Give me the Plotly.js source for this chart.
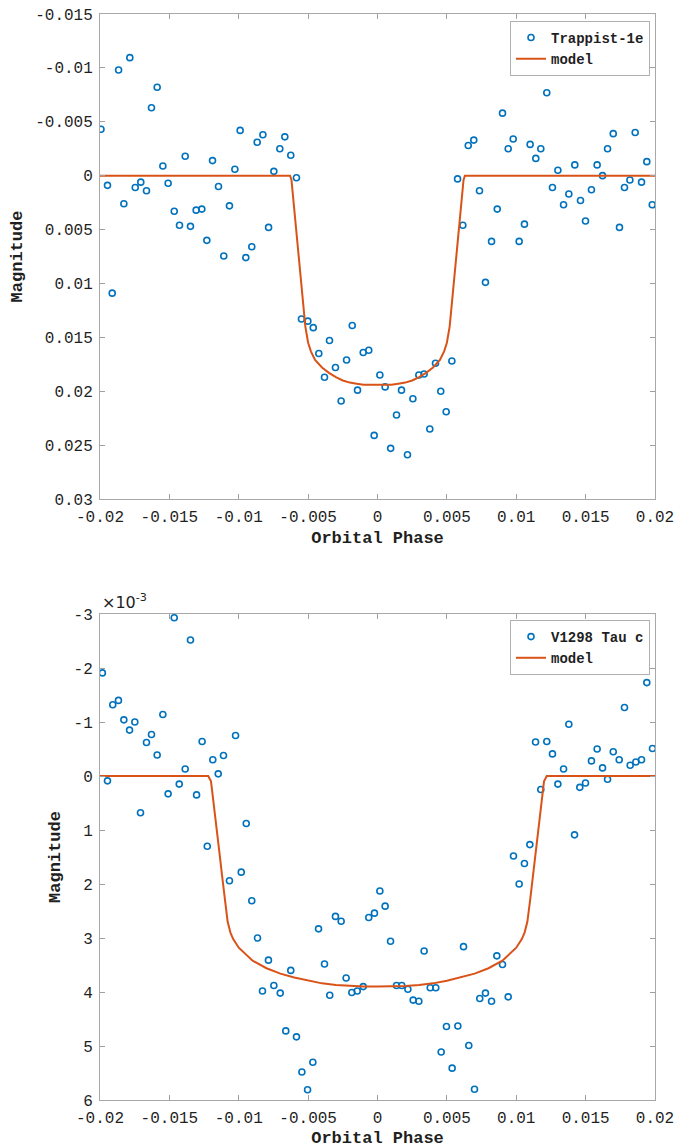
<!DOCTYPE html>
<html>
<head>
<meta charset="utf-8">
<script src="https://cdn.plot.ly/plotly-3.0.1.min.js"></script>
<style>
html,body{margin:0;padding:0;background:#fff;}
#chart{width:678px;height:1148px;}
</style>
</head>
<body>
<div id="chart"></div>
<script>
// ---- Top panel: Trappist-1e ----
var phase1 = [-0.01993,-0.01946,-0.01912,-0.01866,-0.01828,-0.01785,-0.01746,-0.01706,-0.01665,-0.01629,
-0.01588,-0.01547,-0.01509,-0.01465,-0.01427,-0.01386,-0.01348,-0.01307,-0.01266,-0.0123,
-0.01189,-0.01146,-0.01108,-0.01067,-0.01028,-0.0099,-0.00949,-0.00906,-0.00867,-0.00826,
-0.00785,-0.00747,-0.00704,-0.00668,-0.00625,-0.00584,-0.00548,-0.00502,-0.00463,-0.00423,
-0.00382,-0.00346,-0.00303,-0.00262,-0.00223,-0.00182,-0.00144,-0.00103,-0.00063,-0.00024,
0.00017,0.00055,0.00095,0.00137,0.00173,0.00216,0.00255,0.00298,0.00336,0.00377,
0.00418,0.00456,0.00495,0.00536,0.00577,0.00615,0.00654,0.00694,0.00735,0.00778,
0.00822,0.00863,0.00901,0.00942,0.00978,0.01021,0.01059,0.011,0.01141,0.01177,
0.0122,0.01261,0.013,0.01341,0.01379,0.01422,0.01463,0.01499,0.01542,0.01583,
0.01622,0.01658,0.01699,0.01744,0.0178,0.01819,0.01857,0.01903,0.01941,0.0198];
var mag1 = [-0.0043,0.0009,0.0109,-0.0098,0.0026,-0.01095,0.0011,0.0006,0.0014,-0.0063,
-0.0082,-0.0009,0.0007,0.0033,0.0046,-0.0018,0.0047,0.0032,0.0031,0.006,
-0.0014,0.001,0.00745,0.0028,-0.0006,-0.0042,0.0076,0.0066,-0.0031,-0.0038,
0.0048,-0.0004,-0.0025,-0.0036,-0.0019,0.0002,0.0133,0.0135,0.0141,0.0165,
0.0187,0.0153,0.0178,0.0209,0.0171,0.0139,0.0199,0.0164,0.0162,0.0241,
0.0185,0.0196,0.0253,0.0222,0.0199,0.0259,0.0207,0.0185,0.0184,0.0235,
0.0174,0.02,0.0219,0.0172,0.0003,0.0046,-0.0028,-0.0033,0.0014,0.0099,
0.0061,0.0031,-0.0058,-0.0025,-0.0034,0.0061,0.0045,-0.0029,-0.0016,-0.0025,
-0.0077,0.0011,-0.0005,0.0027,0.0017,-0.001,0.0023,0.0042,0.0013,-0.001,
0.0,-0.0025,-0.0039,0.0048,0.0011,0.0004,-0.004,0.0006,-0.0013,0.0027];
var modelPhase1 = [-0.02,-0.0063,-0.0062,-0.006,-0.0058,-0.0056,-0.0054,-0.0052,-0.005,-0.0048,
-0.0045,-0.004,-0.0035,-0.003,-0.0025,-0.002,-0.0015,-0.001,-0.0005,0,
0.0005,0.001,0.0015,0.002,0.0025,0.003,0.0035,0.004,0.0045,0.0048,
0.005,0.0052,0.0054,0.0056,0.0058,0.006,0.0062,0.0063,0.02];
var modelMag1 = [0,0,0.0004,0.003,0.0058,0.0086,0.0113,0.014,0.0155,0.0163,
0.0171,0.0178,0.0183,0.0187,0.019,0.0192,0.0193,0.0194,0.0194,0.0194,
0.0194,0.0194,0.0193,0.0192,0.019,0.0187,0.0183,0.0178,0.0171,0.0163,
0.0155,0.014,0.0113,0.0086,0.0058,0.003,0.0004,0,0];

// ---- Bottom panel: V1298 Tau c (values in units of 1e-3) ----
var phase2 = [-0.01983,-0.01946,-0.01908,-0.01867,-0.01828,-0.01787,-0.01749,-0.01708,-0.01665,-0.01629,
-0.01588,-0.01547,-0.01509,-0.01465,-0.01429,-0.01386,-0.01348,-0.01304,-0.01264,-0.01227,
-0.01187,-0.01148,-0.0111,-0.01067,-0.01023,-0.00982,-0.00946,-0.00906,-0.00865,-0.00829,
-0.00786,-0.00747,-0.00701,-0.00661,-0.00625,-0.00584,-0.00545,-0.00504,-0.00466,-0.00425,
-0.00382,-0.00344,-0.00303,-0.00262,-0.00226,-0.00185,-0.00146,-0.00103,-0.00063,-0.00022,
0.00017,0.00055,0.00094,0.00137,0.00175,0.00219,0.00257,0.00298,0.00336,0.0038,
0.0042,0.00459,0.00497,0.00538,0.00579,0.0062,0.00658,0.00699,0.00737,0.00778,
0.00822,0.0086,0.00901,0.00942,0.0098,0.01021,0.01059,0.01098,0.01139,0.01177,
0.0122,0.01261,0.013,0.01341,0.01379,0.0142,0.01458,0.01499,0.01542,0.01583,
0.01622,0.01658,0.01699,0.01742,0.0178,0.01821,0.01862,0.01903,0.01941,0.01982];
var mag2 = [-1.91,0.09,-1.32,-1.40,-1.04,-0.85,-1.0,0.68,-0.62,-0.77,
-0.39,-1.14,0.33,-2.93,0.15,-0.13,-2.52,0.35,-0.64,1.30,
-0.30,-0.04,-0.38,1.94,-0.75,1.78,0.88,2.31,3.0,3.98,
3.41,3.88,4.02,4.72,3.6,4.83,5.48,5.81,5.30,2.83,
3.48,4.06,2.60,2.69,3.74,4.01,3.98,3.90,2.62,2.54,
2.13,2.41,3.06,3.88,3.88,3.95,4.15,4.17,3.24,3.92,
3.92,5.11,4.64,5.41,4.63,3.16,4.99,5.80,4.12,4.02,
4.17,3.33,3.49,4.09,1.48,2.0,1.62,1.27,-0.63,0.25,
-0.64,-0.41,0.15,-0.13,-0.96,1.09,0.21,0.13,-0.28,-0.5,
-0.15,0.06,-0.45,-0.3,-1.27,-0.2,-0.26,-0.3,-1.73,-0.51];
var modelPhase2 = [-0.02,-0.0122,-0.012,-0.0118,-0.0116,-0.0114,-0.0112,-0.011,-0.0108,-0.0106,
-0.0104,-0.01,-0.009,-0.008,-0.007,-0.006,-0.005,-0.004,-0.003,-0.002,-0.001,0,
0.001,0.002,0.003,0.004,0.005,0.006,0.007,0.008,0.009,0.01,
0.0104,0.0106,0.0108,0.011,0.0112,0.0114,0.0116,0.0118,0.012,0.0122,0.02];
var modelMag2 = [0,0,0.1,0.5,0.95,1.4,1.85,2.3,2.7,2.9,
3.02,3.18,3.42,3.56,3.66,3.73,3.79,3.84,3.87,3.89,3.9,3.9,
3.9,3.89,3.87,3.84,3.79,3.73,3.66,3.56,3.42,3.18,
3.02,2.9,2.7,2.3,1.85,1.4,0.95,0.5,0.1,0,0];

// ---- Tick labels ----
var xTickVals = [-0.02,-0.015,-0.01,-0.005,0,0.005,0.01,0.015,0.02];
var xTickText = ['-0.02','-0.015','-0.01','-0.005','0','0.005','0.01','0.015','0.02'];
var y1TickVals = [-0.015,-0.01,-0.005,0,0.005,0.01,0.015,0.02,0.025,0.03];
var y1TickText = ['-0.015','-0.01','-0.005','0','0.005','0.01','0.015','0.02','0.025','0.03'];
var y2TickVals = [-3,-2,-1,0,1,2,3,4,5,6];
var y2TickText = ['-3','-2','-1','0','1','2','3','4','5','6'];

var blue = '#0072BD', orange = '#D95319';
var mono = '"Liberation Mono", "Courier New", monospace';
var ink = '#1f1f1f';

var traces = [
  {x: phase1, y: mag1, type: 'scatter', mode: 'markers', name: 'Trappist-1e',
   marker: {symbol: 'circle-open', size: 6, color: blue, line: {width: 1.6, color: blue}},
   xaxis: 'x', yaxis: 'y', legend: 'legend'},
  {x: modelPhase1, y: modelMag1, type: 'scatter', mode: 'lines', name: 'model',
   line: {color: orange, width: 2}, xaxis: 'x', yaxis: 'y', legend: 'legend'},
  {x: phase2, y: mag2, type: 'scatter', mode: 'markers', name: 'V1298 Tau c',
   marker: {symbol: 'circle-open', size: 6, color: blue, line: {width: 1.6, color: blue}},
   xaxis: 'x2', yaxis: 'y2', legend: 'legend2'},
  {x: modelPhase2, y: modelMag2, type: 'scatter', mode: 'lines', name: 'model',
   line: {color: orange, width: 2}, xaxis: 'x2', yaxis: 'y2', legend: 'legend2'}
];

function xAxis(anchor) {
  return {
    anchor: anchor, domain: [0, 1], range: [-0.02, 0.02],
    tickvals: xTickVals, ticktext: xTickText,
    ticks: 'inside', ticklen: 5, tickcolor: '#a0a0a0', tickwidth: 1,
    showline: true, linecolor: '#a8a8a8', linewidth: 1, mirror: 'ticks',
    showgrid: false, zeroline: false, ticklabelstandoff: 3,
    tickfont: {family: mono, size: 16, color: ink},
    title: {text: '<b>Orbital Phase</b>', font: {family: mono, size: 17, color: ink}, standoff: 4}
  };
}
function yAxis(anchor, domain, range, tv, tt) {
  return {
    anchor: anchor, domain: domain, range: range,
    tickvals: tv, ticktext: tt,
    ticks: 'inside', ticklen: 5, tickcolor: '#a0a0a0', tickwidth: 1,
    showline: true, linecolor: '#a8a8a8', linewidth: 1, mirror: 'ticks',
    showgrid: false, zeroline: false, ticklabelstandoff: 3,
    tickfont: {family: mono, size: 16, color: ink},
    title: {text: '<b>Magnitude</b>', font: {family: mono, size: 17, color: ink}, standoff: 8}
  };
}

var legendCommon = {
  xref: 'paper', yref: 'paper', xanchor: 'right', yanchor: 'top',
  bgcolor: '#ffffff', bordercolor: '#b0b0b0', borderwidth: 1,
  font: {family: mono, size: 14, color: ink, weight: 'bold'},
  tracegroupgap: 0, itemwidth: 30
};

var layout = {
  width: 678, height: 1148,
  margin: {l: 100, r: 23, t: 14, b: 48},
  paper_bgcolor: '#ffffff', plot_bgcolor: '#ffffff',
  showlegend: true,
  xaxis: xAxis('y'),
  yaxis: yAxis('x', [0.5534, 1], [0.03, -0.015], y1TickVals, y1TickText),
  xaxis2: xAxis('y2'),
  yaxis2: yAxis('x2', [0, 0.4475], [6, -3], y2TickVals, y2TickText),
  legend: Object.assign({}, legendCommon, {x: 0.991, y: 0.9936}),
  legend2: Object.assign({}, legendCommon, {x: 0.991, y: 0.4420}),
  annotations: [
    {xref: 'paper', yref: 'paper', x: 0, y: 0.4475, xanchor: 'left', yanchor: 'bottom',
     text: '×10<sup>-3</sup>', showarrow: false,
     font: {family: 'DejaVu Sans, sans-serif', size: 16, color: ink}}
  ]
};

Plotly.newPlot('chart', traces, layout, {displayModeBar: false, staticPlot: true});
</script>
</body>
</html>
